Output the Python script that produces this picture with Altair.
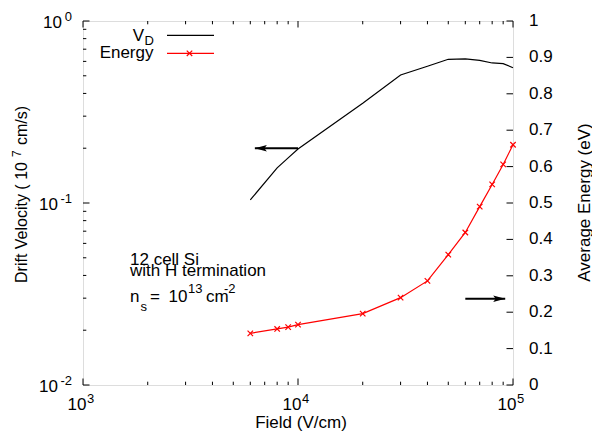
import altair as alt
import pandas as pd

FONT = "Liberation Sans"

# ---------------- data ----------------
field = [6000, 8000, 9000, 10000, 20000, 30000, 40000, 50000, 60000, 70000, 80000, 90000, 100000]
drift_velocity = [0.104, 0.156, 0.177, 0.198, 0.353, 0.505, 0.564, 0.616, 0.620, 0.608, 0.588, 0.583, 0.554]
avg_energy = [0.142, 0.154, 0.159, 0.166, 0.196, 0.240, 0.286, 0.358, 0.419, 0.490, 0.551, 0.606, 0.660]

x_major = [1e3, 1e4, 1e5]
x_exp = ["3", "4", "5"]
x_minor = [2e3, 3e3, 4e3, 5e3, 6e3, 7e3, 8e3, 9e3, 2e4, 3e4, 4e4, 5e4, 6e4, 7e4, 8e4, 9e4]
v_major = [0.01, 0.1, 1.0]
v_exp = ["-2", "-1", "0"]
v_minor = [0.02, 0.03, 0.04, 0.05, 0.06, 0.07, 0.08, 0.09, 0.2, 0.3, 0.4, 0.5, 0.6, 0.7, 0.8, 0.9]
e_ticks = [0.0, 0.1, 0.2, 0.3, 0.4, 0.5, 0.6, 0.7, 0.8, 0.9, 1.0]
e_labels = ["0", "0.1", "0.2", "0.3", "0.4", "0.5", "0.6", "0.7", "0.8", "0.9", "1"]

arrow_v = {"x0": [10000], "x1": [6300], "y": [0.2]}
arrow_e = {"x0": [60000], "x1": [92000], "y": [0.237]}

W, H = 430, 364

df = pd.DataFrame({"field": field, "vd": drift_velocity, "energy": avg_energy})
xs = alt.Scale(type="log", domain=[1e3, 1e5], nice=False)
vs = alt.Scale(type="log", domain=[0.01, 1], nice=False)
es = alt.Scale(type="linear", domain=[0, 1], nice=False, zero=False)

X_PATH = "M-1,-1L1,1M-1,1L1,-1"
HEAD_L = "M0,0L2,-0.55L1.6,0L2,0.55Z"
HEAD_R = "M0,0L-2,-0.55L-1.6,0L-2,0.55Z"

layers = []

# curves
layers.append(alt.Chart(df).mark_line(color="black", strokeWidth=1.2).encode(
    x=alt.X("field:Q", scale=xs, axis=None),
    y=alt.Y("vd:Q", scale=vs, axis=None)))
layers.append(alt.Chart(df).mark_line(color="#ff0000", strokeWidth=1.2).encode(
    x=alt.X("field:Q", scale=xs, axis=None),
    y=alt.Y("energy:Q", scale=es, axis=None)))
layers.append(alt.Chart(df).mark_point(shape=X_PATH, color="#ff0000", size=30, strokeWidth=1.2,
                                       filled=False, opacity=1).encode(
    x=alt.X("field:Q", scale=xs, axis=None),
    y=alt.Y("energy:Q", scale=es, axis=None)))

# x ticks (inward, bottom and top)
for vals, ln in [(x_major, 6.5), (x_minor, 3.3)]:
    tdf = pd.DataFrame({"v": vals})
    for y0, y1 in [(H, H - ln), (0, ln)]:
        layers.append(alt.Chart(tdf).mark_rule(color="black", strokeWidth=1).encode(
            x=alt.X("v:Q", scale=xs, axis=None), y=alt.value(y0), y2=alt.value(y1)))

# left y ticks
for vals, ln in [(v_major, 6.5), (v_minor, 3.3)]:
    tdf = pd.DataFrame({"v": vals})
    layers.append(alt.Chart(tdf).mark_rule(color="black", strokeWidth=1).encode(
        y=alt.Y("v:Q", scale=vs, axis=None), x=alt.value(0), x2=alt.value(ln)))

# right y ticks
edf = pd.DataFrame({"v": e_ticks, "lab": e_labels})
layers.append(alt.Chart(edf).mark_rule(color="black", strokeWidth=1).encode(
    y=alt.Y("v:Q", scale=es, axis=None), x=alt.value(W), x2=alt.value(W - 6.5)))
layers.append(alt.Chart(edf).mark_text(font=FONT, fontSize=17, align="left", baseline="middle",
                                       color="black").encode(
    y=alt.Y("v:Q", scale=es, axis=None), x=alt.value(W + 16), text="lab:N"))

# x tick labels
xdf = pd.DataFrame({"v": x_major, "e": x_exp, "b": ["10"] * 3})
layers.append(alt.Chart(xdf).mark_text(font=FONT, fontSize=17, align="right", baseline="middle",
                                       dx=3.5, color="black").encode(
    x=alt.X("v:Q", scale=xs, axis=None), y=alt.value(H + 20), text="b:N"))
layers.append(alt.Chart(xdf).mark_text(font=FONT, fontSize=13, align="left", baseline="middle",
                                       dx=4, color="black").encode(
    x=alt.X("v:Q", scale=xs, axis=None), y=alt.value(H + 14), text="e:N"))

# left y tick labels
vdf = pd.DataFrame({"v": v_major, "e": v_exp, "b": ["10"] * 3})
layers.append(alt.Chart(vdf).mark_text(font=FONT, fontSize=13, align="right", baseline="middle",
                                       dy=-4, color="black").encode(
    y=alt.Y("v:Q", scale=vs, axis=None), x=alt.value(-11), text="e:N"))
layers.append(alt.Chart(vdf).transform_filter("datum.e == '0'").mark_text(
    font=FONT, fontSize=17, align="right", baseline="middle", dy=1.5, color="black").encode(
    y=alt.Y("v:Q", scale=vs, axis=None), x=alt.value(-21), text="b:N"))
layers.append(alt.Chart(vdf).transform_filter("datum.e != '0'").mark_text(
    font=FONT, fontSize=17, align="right", baseline="middle", dy=1.5, color="black").encode(
    y=alt.Y("v:Q", scale=vs, axis=None), x=alt.value(-25), text="b:N"))

# arrows
av = pd.DataFrame(arrow_v)
layers.append(alt.Chart(av).mark_rule(color="black", strokeWidth=2).encode(
    x=alt.X("x0:Q", scale=xs, axis=None), x2="x1:Q", y=alt.Y("y:Q", scale=vs, axis=None)))
layers.append(alt.Chart(av).mark_point(shape=HEAD_L, size=144, filled=True, color="black",
                                       opacity=1).encode(
    x=alt.X("x1:Q", scale=xs, axis=None), y=alt.Y("y:Q", scale=vs, axis=None)))
ae = pd.DataFrame(arrow_e)
layers.append(alt.Chart(ae).mark_rule(color="black", strokeWidth=2).encode(
    x=alt.X("x0:Q", scale=xs, axis=None), x2="x1:Q", y=alt.Y("y:Q", scale=es, axis=None)))
layers.append(alt.Chart(ae).mark_point(shape=HEAD_R, size=144, filled=True, color="black",
                                       opacity=1).encode(
    x=alt.X("x1:Q", scale=xs, axis=None), y=alt.Y("y:Q", scale=es, axis=None)))

one = pd.DataFrame({"a": [0]})


def txt(s, x, y, size=17, align="left", baseline="alphabetic", angle=0):
    return alt.Chart(one).mark_text(text=s, font=FONT, fontSize=size, align=align,
                                    baseline=baseline, angle=angle, color="black").encode(
        x=alt.value(x), y=alt.value(y))


# axis titles
x_title = "Field (V/cm)"
e_title = "Average Energy (eV)"
v_title_a = "Drift Velocity ( 10"
v_title_b = "7"
v_title_c = "cm/s)"
layers.append(txt(x_title, 218, 407, align="center"))
layers.append(txt(e_title, 501.5, 181.5, align="center", baseline="middle", angle=270))
layers.append(txt(v_title_a, -61, 262, size=16, align="left", baseline="middle", angle=270))
layers.append(txt(v_title_b, -66, 136, size=12, align="left", baseline="middle", angle=270))
layers.append(txt(v_title_c, -61, 124, size=16, align="left", baseline="middle", angle=270))

# legend
layers.append(txt("V", 61, 14.5, align="right", baseline="middle"))
layers.append(txt("D", 61.5, 19.5, size=13, align="left", baseline="middle"))
layers.append(txt("Energy", 70.5, 32, align="right", baseline="middle"))
layers.append(alt.Chart(one).mark_rule(color="black", strokeWidth=1.2).encode(
    x=alt.value(84), x2=alt.value(131), y=alt.value(14.3)))
layers.append(alt.Chart(one).mark_rule(color="#ff0000", strokeWidth=1.2).encode(
    x=alt.value(84), x2=alt.value(131), y=alt.value(32.3)))
layers.append(alt.Chart(one).mark_point(shape=X_PATH, color="#ff0000", size=30, strokeWidth=1.2,
                                        filled=False, opacity=1).encode(
    x=alt.value(106.5), y=alt.value(32.3)))

# annotation
layers.append(txt("12 cell Si", 47, 244))
layers.append(txt("with H termination", 47, 254.7))
layers.append(txt("n", 47, 280.7))
layers.append(txt("s", 57.5, 289.5, size=13))
layers.append(txt("=", 67, 280.7))
layers.append(txt("10", 85.5, 280.7))
layers.append(txt("13", 105, 271.5, size=13))
layers.append(txt("cm", 123, 280.7))
layers.append(txt("-2", 141, 271.5, size=13))

chart = alt.layer(*layers).resolve_scale(y="independent").properties(
    width=W, height=H,
    autosize=alt.AutoSizeParams(type="none"),
    padding={"left": 75, "top": 13, "right": 79, "bottom": 47},
).configure_view(stroke="black", strokeWidth=1.5).configure(font=FONT)

chart.save("out.html", embed_options={"renderer": "svg", "actions": False})
